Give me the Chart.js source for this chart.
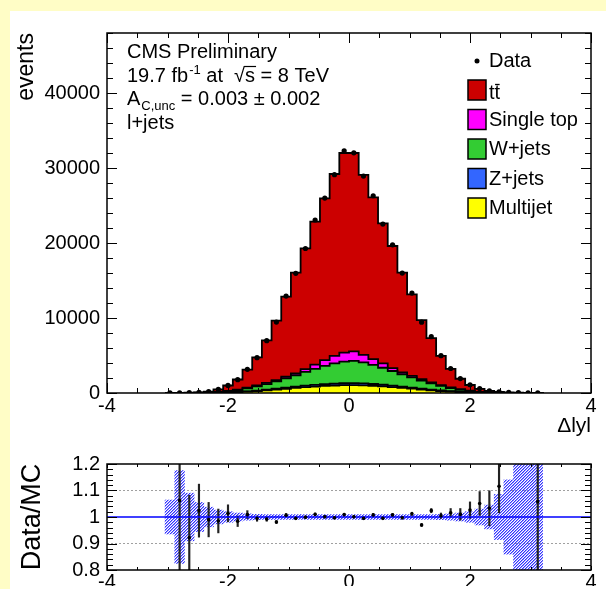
<!DOCTYPE html>
<html>
<head>
<meta charset="utf-8">
<script src="https://cdn.jsdelivr.net/npm/chart.js@4.4.1/dist/chart.umd.min.js"></script>
<style>
html, body { margin: 0; padding: 0; }
body { width: 606px; height: 589px; background: #fffdc6; position: relative; overflow: hidden; }
#pad { position: absolute; left: 10px; top: 11px; right: 0; bottom: 0; background: #fff; }
#main { position: absolute; left: 0; top: 0; }
#ratio { position: absolute; left: 0; top: 445px; }
</style>
</head>
<body>
<div id="pad"></div>
<canvas id="main" width="606" height="445"></canvas>
<canvas id="ratio" width="606" height="144"></canvas>
<script>
// bin centres of |y| difference, bin width 0.16
const binCenters = [-2.96, -2.8, -2.64, -2.48, -2.32, -2.16, -2.0, -1.84, -1.68, -1.52,
    -1.36, -1.2, -1.04, -0.88, -0.72, -0.56, -0.4, -0.24, -0.08, 0.08,
    0.24, 0.4, 0.56, 0.72, 0.88, 1.04, 1.2, 1.36, 1.52, 1.68,
    1.84, 2.0, 2.16, 2.32, 2.48, 2.64, 2.8, 2.96, 3.12];
const binWidth = 0.16;

// stacked MC, events per bin
const multijet = [2, 3, 5, 8, 15, 30, 60, 110, 180, 260,
    350, 460, 570, 680, 780, 860, 940, 1000, 1040, 1050,
    1020, 960, 880, 790, 690, 580, 470, 360, 270, 190,
    120, 70, 35, 18, 9, 5, 3, 2, 1];
const zjets = [1, 1, 2, 3, 5, 10, 18, 30, 45, 65,
    90, 115, 140, 170, 195, 215, 235, 250, 260, 262,
    252, 238, 218, 195, 170, 143, 117, 92, 68, 48,
    32, 20, 11, 6, 3, 2, 1, 1, 0];
const wjets = [3, 5, 9, 17, 35, 70, 140, 240, 380, 550,
    750, 980, 1250, 1520, 1850, 2150, 2450, 2700, 2880, 2960,
    2800, 2560, 2270, 1950, 1640, 1350, 1070, 820, 600, 420,
    270, 160, 85, 42, 20, 10, 5, 3, 1];
const singleTop = [1, 2, 3, 6, 12, 25, 50, 75, 100, 125,
    150, 175, 210, 260, 360, 560, 760, 1000, 1200, 1280,
    1000, 770, 580, 370, 260, 210, 175, 150, 125, 100,
    75, 50, 28, 14, 7, 4, 2, 1, 0];
const ttbar = [8, 14, 26, 56, 123, 345, 732, 1345, 2425, 3740,
    5690, 7910, 10670, 13410, 16105, 19055, 21575, 24250, 26620, 26450,
    24000, 21560, 18680, 16295, 13280, 10877, 7898, 5908, 3887, 2462,
    1403, 770, 401, 210, 111, 59, 29, 13, 7];
const dataEvents = [21, 27, 41, 92, 188, 473, 1014, 1771, 3158, 4712,
    6974, 9457, 12930, 15960, 19270, 23070, 25990, 29110, 32290, 32030,
    28930, 26300, 22520, 19760, 15990, 13320, 9440, 7510, 4975, 3270,
    1920, 1098, 589, 300, 167, 82, 41, 19, 11];

// lower panel
const ratio = [null, 1.062, 0.922, 1.024, 0.99, 0.985, 1.014, 0.984, 1.009, 0.994,
    0.992, 0.981, 1.007, 0.995, 0.999, 1.01, 1.001, 0.997, 1.009, 1.001,
    0.995, 1.008, 0.995, 1.008, 0.997, 1.012, 0.97, 1.024, 1.005, 1.016,
    1.01, 1.026, 1.051, 1.033, 1.116, null, null, null, 1.058];
const ratioErr = [null, 0.3, 0.16, 0.1, 0.065, 0.045, 0.032, 0.02, 0.015, 0.01,
    0.008, 0.006, 0.006, 0.005, 0.005, 0.005, 0.005, 0.005, 0.005, 0.005,
    0.005, 0.005, 0.005, 0.005, 0.005, 0.006, 0.006, 0.008, 0.01, 0.016,
    0.022, 0.031, 0.045, 0.066, 0.1, null, null, null, 0.3];
const mcErr = [0.064, 0.175, 0.09, 0.055, 0.037, 0.026, 0.02, 0.015, 0.012, 0.01,
    0.009, 0.009, 0.009, 0.009, 0.009, 0.009, 0.009, 0.009, 0.009, 0.009,
    0.009, 0.009, 0.009, 0.009, 0.009, 0.009, 0.009, 0.009, 0.01, 0.012,
    0.015, 0.02, 0.03, 0.045, 0.085, 0.14, 0.3, 0.3, 0.3];

// tick labels
const xTicks = [-4, -2, 0, 2, 4];
const eventTicks = [0, 10000, 20000, 30000, 40000];
const ratioTicks = [0.8, 0.9, 1, 1.1, 1.2];

const FONT = '"Liberation Sans", Arial, Helvetica, sans-serif';

// left bin edges plus the last right edge, for the step outlines
const edges = binCenters.map(c => +(c - binWidth / 2).toFixed(2));
edges.push(+(binCenters[binCenters.length - 1] + binWidth / 2).toFixed(2));

function stepLayer(label, values, color, fill) {
    return {
        label: label,
        data: edges.map((e, i) => ({x: e, y: i < values.length ? values[i] : 0})),
        stepped: true,
        fill: fill,
        backgroundColor: color,
        borderColor: '#000',
        borderWidth: 1.8,
        pointRadius: 0,
        stack: 'mc'
    };
}

const useTicks = list => scale => { scale.ticks = list.map(v => ({value: v})); };

// inward ROOT style ticks and the frame
const rootFrame = {
    id: 'rootFrame',
    afterDraw(chart, args, o) {
        const {ctx, chartArea: a, scales: {x, y}} = chart;
        ctx.save();
        ctx.strokeStyle = '#000';
        ctx.lineWidth = 1;
        ctx.beginPath();
        const marks = (scale, major, minor, lens, horizontal) => {
            const n = Math.round((scale.max - scale.min) / minor);
            for (let i = 0; i <= n; i++) {
                const v = scale.min + i * minor;
                const isMajor = Math.abs(v / major - Math.round(v / major)) < 1e-6;
                const len = isMajor ? lens[0] : lens[1];
                const p = Math.round(scale.getPixelForValue(v)) + 0.5;
                if (horizontal) {
                    ctx.moveTo(p, a.bottom); ctx.lineTo(p, a.bottom - len);
                    ctx.moveTo(p, a.top); ctx.lineTo(p, a.top + len);
                } else {
                    ctx.moveTo(a.left, p); ctx.lineTo(a.left + len, p);
                    ctx.moveTo(a.right, p); ctx.lineTo(a.right - len, p);
                }
            }
        };
        marks(x, o.xMajor, o.xMinor, o.xLen, true);
        marks(y, o.yMajor, o.yMinor, o.yLen, false);
        ctx.stroke();
        ctx.lineWidth = 1.5;
        ctx.strokeRect(a.left, a.top, a.right - a.left, a.bottom - a.top);
        ctx.restore();
    }
};

// CMS label block and the legend box
const annotate = {
    id: 'annotate',
    afterDraw(chart) {
        const ctx = chart.ctx;
        const big = '20px ' + FONT;
        const small = '13px ' + FONT;
        ctx.save();
        ctx.fillStyle = '#000';
        ctx.strokeStyle = '#000';
        ctx.textAlign = 'left';
        ctx.textBaseline = 'alphabetic';
        const put = (txt, x, y, font) => {
            ctx.font = font;
            ctx.fillText(txt, x, y);
            return x + ctx.measureText(txt).width;
        };
        put('CMS Preliminary', 127, 58, big);
        let x = put('19.7 fb', 127, 82, big);
        x = put('-1', x + 1, 74, small);
        x = put(' at  ', x, 82, big);
        x = put('\u221A', x, 82, big);
        const sx = x;
        x = put('s', x, 82, big);
        ctx.lineWidth = 1.2;
        ctx.beginPath();
        ctx.moveTo(sx - 1, 66.5);
        ctx.lineTo(x + 1, 66.5);
        ctx.stroke();
        put(' = 8 TeV', x, 82, big);
        x = put('A', 127, 105, big);
        x = put('C,unc', x + 1, 110, small);
        put(' = 0.003 \u00B1 0.002', x, 105, big);
        put('l+jets', 127, 129, big);

        // legend
        ctx.beginPath();
        ctx.arc(477, 61, 2.5, 0, Math.PI * 2);
        ctx.fill();
        put('Data', 489, 67, big);
        const mc = chart.data.datasets.filter(d => d.stack === 'mc').reverse();
        mc.forEach((d, i) => {
            const top = 80 + i * 29.5;
            ctx.fillStyle = d.backgroundColor;
            ctx.fillRect(468, top, 18, 20);
            ctx.lineWidth = 1.5;
            ctx.strokeRect(468, top, 18, 20);
            ctx.fillStyle = '#000';
            if (d.label.indexOf('\u0304') >= 0) {
                const base = d.label.replace('\u0304', '');
                ctx.font = big;
                ctx.fillText(base, 489, top + 19);
                const w1 = ctx.measureText(base.slice(0, -1)).width;
                const w2 = ctx.measureText(base).width;
                ctx.lineWidth = 1.3;
                ctx.beginPath();
                ctx.moveTo(489 + w1 + 0.5, top + 4.5);
                ctx.lineTo(489 + w2 - 0.5, top + 4.5);
                ctx.stroke();
            } else {
                put(d.label, 489, top + 16, big);
            }
        });
        ctx.restore();
    }
};

new Chart(document.getElementById('main'), {
    type: 'line',
    data: {
        datasets: [
            stepLayer('Multijet', multijet, '#ffff00', 'origin'),
            stepLayer('Z+jets', zjets, '#3366ff', '-1'),
            stepLayer('W+jets', wjets, '#33cc33', '-1'),
            stepLayer('Single top', singleTop, '#ff00ff', '-1'),
            stepLayer('tt\u0304', ttbar, '#cc0000', '-1'),
            {
                label: 'Data',
                data: binCenters.map((c, i) => ({x: c, y: dataEvents[i]})),
                showLine: false,
                pointRadius: 2.6,
                pointBorderWidth: 0,
                pointBackgroundColor: '#000',
                stack: 'obs',
                order: -1
            }
        ]
    },
    options: {
        responsive: false,
        animation: false,
        events: [],
        layout: {padding: {top: 33, right: 15, left: 0, bottom: 0}},
        plugins: {
            legend: {display: false},
            tooltip: {enabled: false},
            rootFrame: {xMajor: 2, xMinor: 0.5, xLen: [10, 5], yMajor: 10000, yMinor: 2000, yLen: [10, 6]}
        },
        scales: {
            x: {
                type: 'linear', min: -4, max: 4,
                afterBuildTicks: useTicks(xTicks),
                afterFit: s => { s.height = 52; },
                grid: {display: false, drawTicks: false},
                border: {display: false},
                ticks: {padding: 1, maxRotation: 0, color: '#000',
                    font: {family: FONT, size: 20}, callback: v => String(v)},
                title: {display: true, text: '\u0394lyl', align: 'end', color: '#000',
                    font: {family: FONT, size: 21}, padding: {top: 0, bottom: 6}}
            },
            y: {
                min: 0, max: 48000, stacked: true,
                afterBuildTicks: useTicks(eventTicks),
                afterFit: s => { s.width = 107; },
                grid: {display: false, drawTicks: false},
                border: {display: false},
                ticks: {padding: 7, color: '#000',
                    font: {family: FONT, size: 20}, callback: v => String(v)},
                title: {display: true, text: 'events', align: 'end', color: '#000',
                    font: {family: FONT, size: 23}, padding: {top: 13, bottom: 0}}
            }
        }
    },
    plugins: [rootFrame, annotate]
});

// hatched MC uncertainty band, 3px diagonal pattern
const ratioCanvas = document.getElementById('ratio');
const tile = document.createElement('canvas');
tile.width = 3;
tile.height = 3;
const tg = tile.getContext('2d');
const img = tg.createImageData(3, 3);
for (let ty = 0; ty < 3; ty++) {
    for (let tx = 0; tx < 3; tx++) {
        const k = (ty * 3 + tx) * 4;
        const m = (tx + ty) % 3;
        img.data[k] = 51;
        img.data[k + 1] = 51;
        img.data[k + 2] = 255;
        img.data[k + 3] = m === 0 ? 255 : (m === 1 ? 120 : 0);
    }
}
tg.putImageData(img, 0, 0);
const hatch = ratioCanvas.getContext('2d').createPattern(tile, 'repeat');

const near = (a, b) => Math.abs(a - b) < 1e-6;

new Chart(ratioCanvas, {
    type: 'bar',
    data: {
        datasets: [
            {
                type: 'line',
                data: binCenters.map((c, i) => ({x: c, y: ratio[i]})),
                showLine: false,
                pointRadius: 1.8,
                pointBorderWidth: 0,
                pointBackgroundColor: '#000',
                order: 0
            },
            {
                type: 'line',
                data: [{x: -4, y: 1}, {x: 4, y: 1}],
                borderColor: '#0000ff',
                borderWidth: 1.5,
                pointRadius: 0,
                order: 1
            },
            {
                type: 'bar',
                data: binCenters.map((c, i) => ratio[i] === null ? null
                    : {x: c, y: [ratio[i] - ratioErr[i], ratio[i] + ratioErr[i]]}).filter(p => p),
                backgroundColor: '#222',
                grouped: false,
                barThickness: 1.5,
                order: 2
            },
            {
                type: 'bar',
                data: binCenters.map((c, i) => ({x: c, y: [1 - mcErr[i], 1 + mcErr[i]]})),
                backgroundColor: hatch,
                grouped: false,
                barPercentage: 1,
                categoryPercentage: 1,
                order: 3
            }
        ]
    },
    options: {
        responsive: false,
        animation: false,
        events: [],
        layout: {padding: {top: 13, right: 15, left: 0, bottom: 0}},
        plugins: {
            legend: {display: false},
            tooltip: {enabled: false},
            rootFrame: {xMajor: 2, xMinor: 0.5, xLen: [4, 3], yMajor: 0.1, yMinor: 0.02, yLen: [10, 6]}
        },
        scales: {
            x: {
                type: 'linear', min: -4, max: 4, offset: false,
                afterBuildTicks: useTicks(xTicks),
                afterFit: s => { s.height = 16; },
                grid: {display: false, drawTicks: false},
                border: {display: false},
                ticks: {padding: 0, maxRotation: 0, color: '#000',
                    font: {family: FONT, size: 20}, callback: v => String(v)}
            },
            y: {
                min: 0.8, max: 1.2,
                afterBuildTicks: useTicks(ratioTicks),
                afterFit: s => { s.width = 107; },
                grid: {drawTicks: false, lineWidth: 1,
                    color: c => (near(c.tick.value, 0.9) || near(c.tick.value, 1.1)) ? '#a0a0a0' : 'rgba(0,0,0,0)'},
                border: {display: false, dash: [2, 2]},
                ticks: {padding: 7, color: '#000',
                    font: {family: FONT, size: 20}, callback: v => String(v)},
                title: {display: true, text: 'Data/MC', align: 'center', color: '#000',
                    font: {family: FONT, size: 27}, padding: {top: 16, bottom: 0}}
            }
        }
    },
    plugins: [rootFrame]
});
</script>
</body>
</html>
